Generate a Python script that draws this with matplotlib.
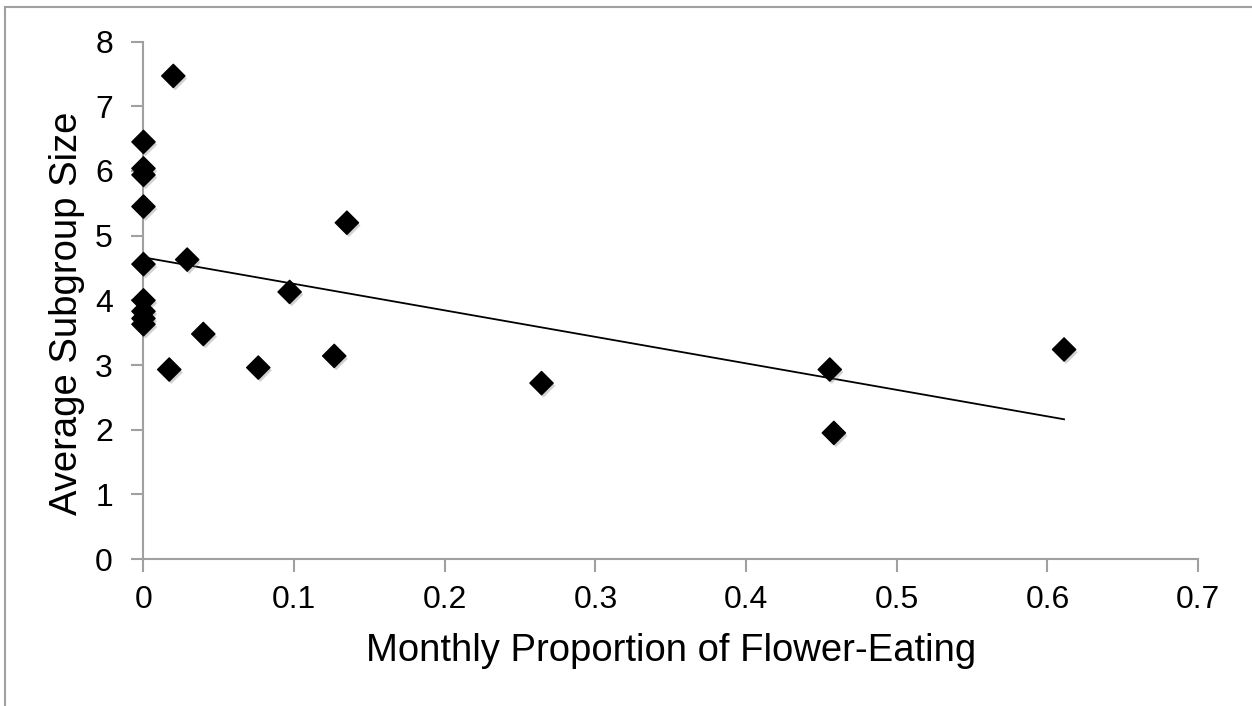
import matplotlib.pyplot as plt
import matplotlib.patheffects as pe
from matplotlib.lines import Line2D
import numpy as np

plt.rcParams['font.family'] = ['Liberation Sans', 'DejaVu Sans']

# monthly proportion of flower-eating vs average subgroup size
flower = [0, 0, 0, 0, 0, 0, 0, 0, 0,
          0.0198, 0.029, 0.135, 0.097, 0.0171, 0.0397, 0.0762, 0.1266,
          0.2642, 0.4555, 0.4582, 0.611]
subgroup = [6.45, 6.04, 5.94, 5.45, 4.56, 4.0, 3.83, 3.72, 3.63,
            7.47, 4.63, 5.20, 4.13, 2.93, 3.48, 2.96, 3.14,
            2.72, 2.93, 1.95, 3.24]

x_ticks = [0, 0.1, 0.2, 0.3, 0.4, 0.5, 0.6, 0.7]
x_labels = ['0', '0.1', '0.2', '0.3', '0.4', '0.5', '0.6', '0.7']
y_ticks = [0, 1, 2, 3, 4, 5, 6, 7, 8]

fig = plt.figure(figsize=(12.52, 7.06), dpi=100)
ax = fig.add_axes([0.1146, 0.2082, 0.957 - 0.1146, 0.941 - 0.2082])

# linear trendline
slope, intercept = np.polyfit(flower, subgroup, 1)
xs = np.array([min(flower), max(flower)])
ax.plot(xs, intercept + slope * xs, color='black', lw=1.3, zorder=2)

ax.scatter(flower, subgroup, marker='D', s=140, color='black', zorder=3,
           clip_on=False,
           path_effects=[pe.SimplePatchShadow(offset=(1.5, -2), shadow_rgbFace='gray', alpha=0.35),
                         pe.Normal()])

ax.set_xlim(0, 0.7)
ax.set_ylim(0, 8)
ax.set_xticks(x_ticks)
ax.set_xticklabels(x_labels)
ax.set_yticks(y_ticks)

for s in ['top', 'right']:
    ax.spines[s].set_visible(False)
for s in ['left', 'bottom']:
    ax.spines[s].set_color('#a0a0a0')
    ax.spines[s].set_linewidth(1.5)

ax.tick_params(axis='both', direction='out', length=9, width=1.5, color='#a0a0a0',
               labelsize=23)
ax.tick_params(axis='x', pad=10)
ax.tick_params(axis='y', pad=13)

ax.set_xlabel('Monthly Proportion of Flower-Eating', fontsize=27.5, labelpad=13)
ax.set_ylabel('Average Subgroup Size', fontsize=27.5)
ax.yaxis.set_label_coords(-0.055, 0.475)

# partial border of the chart area
fig.add_artist(Line2D([5 / 1252, 1.01], [1 - 6.7 / 706, 1 - 6.7 / 706],
                      color='#a0a0a0', lw=1.5, transform=fig.transFigure))
fig.add_artist(Line2D([5 / 1252, 5 / 1252], [1 - 6.7 / 706, -0.01],
                      color='#a0a0a0', lw=1.5, transform=fig.transFigure))

fig.savefig('out.png', dpi=100)
